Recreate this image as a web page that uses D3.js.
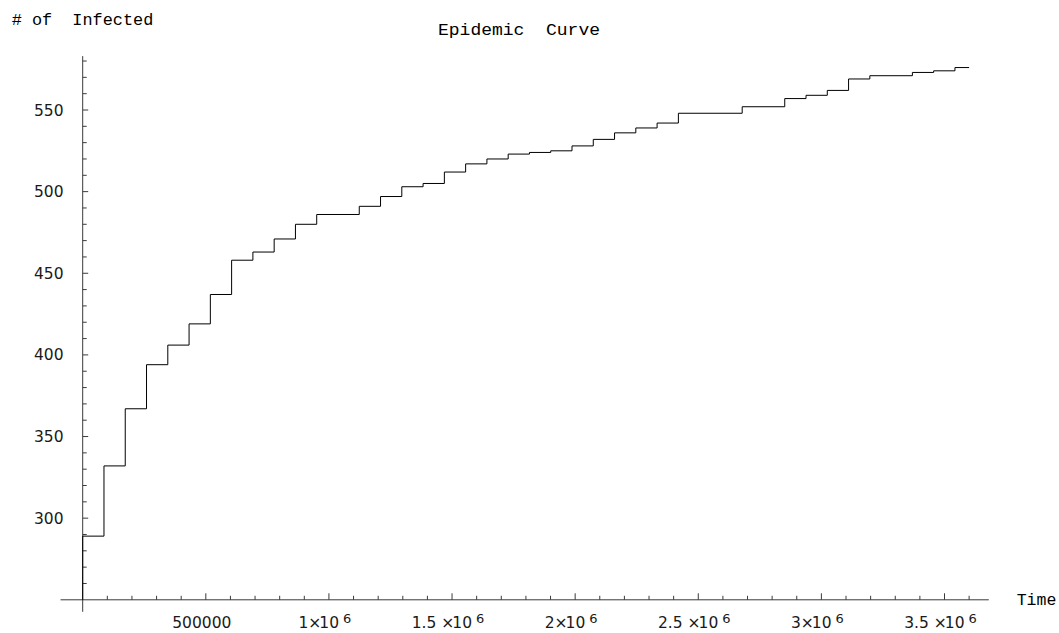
<!DOCTYPE html>
<html>
<head>
<meta charset="utf-8">
<script src="https://cdn.jsdelivr.net/npm/d3@7"></script>
<style>
  body { margin: 0; background: #fff; }
  svg { display: block; }
</style>
</head>
<body>
<svg width="1059" height="633"></svg>
<script>
// time (seconds) at which each count level starts
var times = [0, 86400, 172800, 259200, 345600, 432000, 518400, 604800, 691200, 777600,
             864000, 950400, 1123200, 1209600, 1296000, 1382400, 1468800, 1555200, 1641600, 1728000,
             1814400, 1900800, 1987200, 2073600, 2160000, 2246400, 2332800, 2419200, 2678400, 2851200,
             2937600, 3024000, 3110400, 3196800, 3369600, 3456000, 3542400];
// number of infected for each level
var counts = [289, 332, 367, 394, 406, 419, 437, 458, 463, 471,
              480, 486, 491, 497, 503, 505, 512, 517, 520, 523,
              524, 525, 528, 532, 536, 539, 542, 548, 552, 557,
              559, 562, 569, 571, 573, 574, 576];
var endTime = 3600000;

var xMajor = [500000, 1000000, 1500000, 2000000, 2500000, 3000000, 3500000];
var xMantissa = ["500000", "1", "1.5", "2", "2.5", "3", "3.5"];
var yMajor = [300, 350, 400, 450, 500, 550];

var svg = d3.select("svg");

var x = d3.scaleLinear().domain([0, 3500000]).range([82.7, 944.5]),
    y = d3.scaleLinear().domain([250, 550]).range([599.8, 110]);

var xLo = -90000, xHi = 3680000,
    yLo = 250, yHi = 583;

var axisColor = "#3a3a3a";
var tickFont = "'DejaVu Sans', sans-serif";
var monoFont = "'Liberation Mono', 'Courier New', monospace";

// axes lines
var axes = svg.append("g").attr("stroke", axisColor).attr("stroke-width", 1);
axes.append("line")
    .attr("x1", x(xLo)).attr("x2", x(xHi))
    .attr("y1", y(yLo)).attr("y2", y(yLo));
axes.append("line")
    .attr("x1", x(0)).attr("x2", x(0))
    .attr("y1", y(yLo) + 12).attr("y2", y(yHi));

// x ticks
var xMinor = d3.range(100000, xHi, 100000).filter(function(d) { return xMajor.indexOf(d) < 0; });
axes.selectAll(".xminor").data(xMinor).enter().append("line")
    .attr("x1", function(d) { return x(d); }).attr("x2", function(d) { return x(d); })
    .attr("y1", y(yLo)).attr("y2", y(yLo) - 4);
axes.selectAll(".xmajor").data(xMajor).enter().append("line")
    .attr("x1", function(d) { return x(d); }).attr("x2", function(d) { return x(d); })
    .attr("y1", y(yLo)).attr("y2", y(yLo) - 6.5);

// y ticks
var yMinor = d3.range(260, yHi, 10).filter(function(d) { return yMajor.indexOf(d) < 0; });
axes.selectAll(".yminor").data(yMinor).enter().append("line")
    .attr("x1", x(0)).attr("x2", x(0) + 4)
    .attr("y1", function(d) { return y(d); }).attr("y2", function(d) { return y(d); });
axes.selectAll(".ymajor").data(yMajor).enter().append("line")
    .attr("x1", x(0)).attr("x2", x(0) + 5.5)
    .attr("y1", function(d) { return y(d); }).attr("y2", function(d) { return y(d); });

// x tick labels
var xl = svg.append("g")
    .attr("font-family", tickFont)
    .attr("font-size", 15.5)
    .attr("fill", "#1a1a1a")
    .attr("text-anchor", "middle");
xMajor.forEach(function(v, i) {
  var m = xMantissa[i];
  var t = xl.append("text").attr("x", x(v) - 4).attr("y", 627.5);
  if (i === 0) { t.text(m); return; }
  t.append("tspan").text(m + (m.indexOf(".") >= 0 ? " " : ""));
  t.append("tspan").text("\u00d7");
  t.append("tspan").attr("dx", -2).text("10");
  t.append("tspan").attr("dx", 4).attr("dy", -5).attr("font-size", 13).text("6");
});

// y tick labels
svg.append("g")
    .attr("font-family", tickFont)
    .attr("font-size", 15.5)
    .attr("fill", "#1a1a1a")
    .attr("text-anchor", "end")
  .selectAll("text").data(yMajor).enter().append("text")
    .attr("x", 63.5)
    .attr("y", function(d) { return y(d); })
    .attr("dy", "0.36em")
    .text(function(d) { return d; });

// step curve
var pts = [[0, yLo]];
times.forEach(function(t, i) { pts.push([t, counts[i]]); });
pts.push([endTime, counts[counts.length - 1]]);

var line = d3.line()
    .x(function(d) { return x(d[0]); })
    .y(function(d) { return y(d[1]); })
    .curve(d3.curveStepAfter);

svg.append("path")
    .datum(pts)
    .attr("d", line)
    .attr("fill", "none")
    .attr("stroke", "#000")
    .attr("stroke-width", 1);

// titles
svg.append("text")
    .attr("x", 11.7).attr("y", 25)
    .attr("font-family", monoFont).attr("font-size", 17)
    .attr("textLength", 141.6).attr("lengthAdjust", "spacingAndGlyphs")
    .attr("xml:space", "preserve")
    .style("white-space", "pre")
    .text("# of  Infected");

svg.append("text")
    .attr("x", 438).attr("y", 34.5)
    .attr("font-family", monoFont).attr("font-size", 17)
    .attr("textLength", 162).attr("lengthAdjust", "spacingAndGlyphs")
    .style("white-space", "pre")
    .text("Epidemic  Curve");

svg.append("text")
    .attr("x", 1016.7).attr("y", 604.5)
    .attr("font-family", monoFont).attr("font-size", 17)
    .attr("textLength", 39.6).attr("lengthAdjust", "spacingAndGlyphs")
    .text("Time");
</script>
</body>
</html>
